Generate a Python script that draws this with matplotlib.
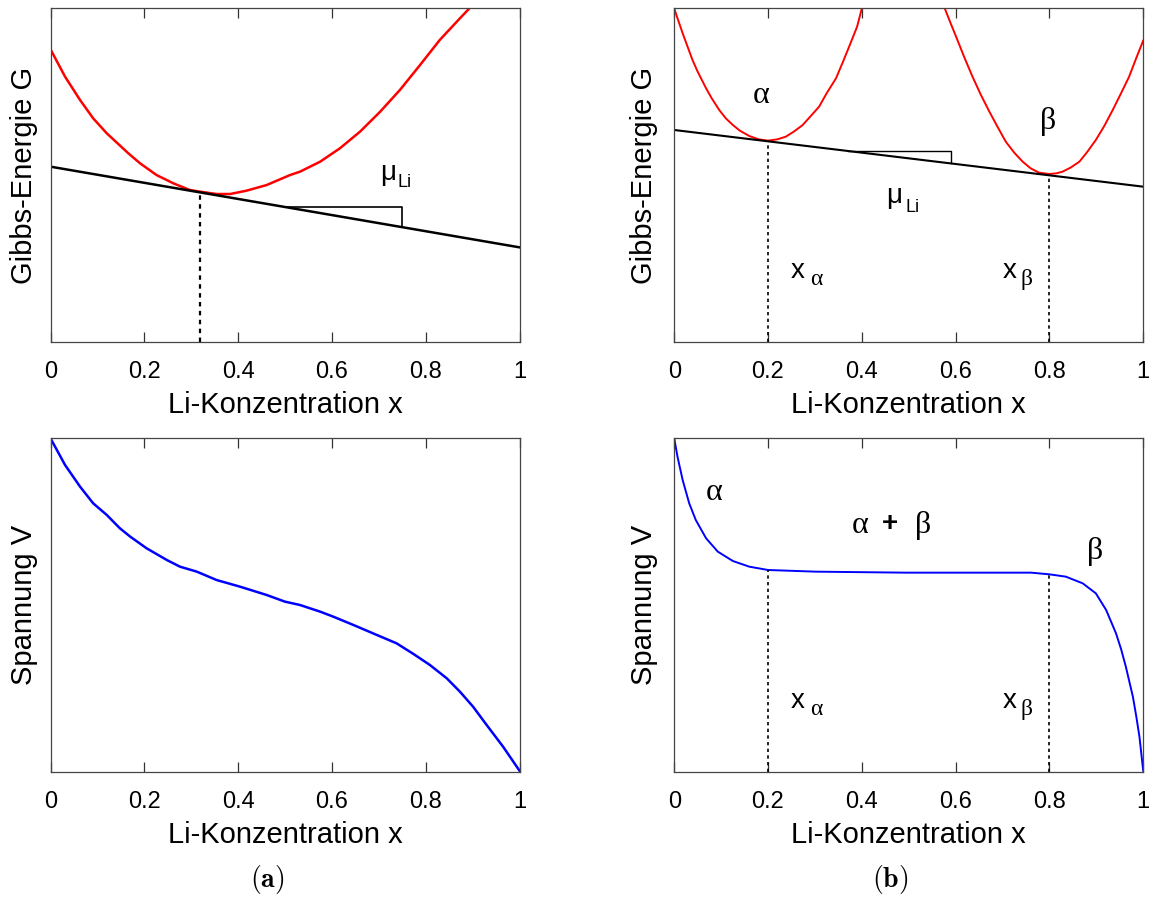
import matplotlib
matplotlib.use("Agg")
import matplotlib.pyplot as plt

# (a) single phase: Gibbs energy, tangent, voltage
ga_x = [0.0, 0.031, 0.063, 0.091, 0.120, 0.166, 0.191, 0.226, 0.262, 0.297, 0.319, 0.354,
        0.383, 0.418, 0.461, 0.511, 0.532, 0.575, 0.617, 0.660, 0.703, 0.745, 0.788, 0.830,
        0.873, 0.900]
ga_y = [0.877, 0.795, 0.725, 0.670, 0.625, 0.565, 0.535, 0.500, 0.475, 0.455, 0.450, 0.443,
        0.443, 0.453, 0.470, 0.500, 0.510, 0.540, 0.580, 0.630, 0.690, 0.755, 0.830, 0.905,
        0.970, 1.010]
tan_a_x = [0.0, 1.0]
tan_a_y = [0.525, 0.283]
xa_touch = 0.319
ga_touch = 0.448
tri_a_x = [0.504, 0.750, 0.750]
tri_a_y = [0.403, 0.403, 0.3435]

va_x = [0.0, 0.031, 0.063, 0.091, 0.120, 0.148, 0.170, 0.205, 0.248, 0.276, 0.312, 0.354,
        0.404, 0.461, 0.500, 0.532, 0.575, 0.603, 0.646, 0.696, 0.738, 0.774, 0.809, 0.845,
        0.873, 0.901, 0.930, 0.965, 1.0]
va_y = [1.0, 0.920, 0.855, 0.805, 0.770, 0.730, 0.705, 0.670, 0.635, 0.615, 0.600, 0.575,
        0.555, 0.530, 0.510, 0.500, 0.480, 0.465, 0.440, 0.410, 0.385, 0.353, 0.320, 0.280,
        0.240, 0.195, 0.140, 0.075, 0.003]

# (b) two phases
gal_x = [-0.005, 0.018, 0.039, 0.050, 0.068, 0.080, 0.096, 0.110, 0.125, 0.140, 0.160,
         0.180, 0.200, 0.220, 0.238, 0.255, 0.274, 0.290, 0.309, 0.325, 0.345, 0.360,
         0.373, 0.390, 0.402]
gal_y = [1.02, 0.925, 0.845, 0.810, 0.760, 0.730, 0.695, 0.670, 0.650, 0.633, 0.617,
         0.607, 0.603, 0.607, 0.615, 0.630, 0.650, 0.675, 0.705, 0.745, 0.790, 0.840,
         0.885, 0.945, 1.01]
gbe_x = [0.574, 0.588, 0.601, 0.618, 0.636, 0.654, 0.672, 0.690, 0.707, 0.725, 0.743,
         0.760, 0.778, 0.800, 0.815, 0.828, 0.845, 0.864, 0.880, 0.899, 0.917, 0.935,
         0.952, 0.970, 0.985, 1.0]
gbe_y = [1.01, 0.960, 0.915, 0.855, 0.795, 0.740, 0.690, 0.643, 0.600, 0.567, 0.540,
         0.520, 0.507, 0.503, 0.505, 0.510, 0.522, 0.540, 0.568, 0.605, 0.647, 0.695,
         0.743, 0.795, 0.850, 0.903]
tan_b_x = [0.0, 1.0]
tan_b_y = [0.635, 0.465]
x_alpha, x_beta = 0.2, 0.8
g_alpha, g_beta = 0.601, 0.499
tri_b_x = [0.370, 0.590, 0.590]
tri_b_y = [0.572, 0.572, 0.5347]

vb_x = [0.0, 0.007, 0.018, 0.032, 0.046, 0.068, 0.093, 0.125, 0.160, 0.200, 0.302, 0.494,
        0.761, 0.800, 0.835, 0.871, 0.899, 0.921, 0.942, 0.953, 0.963, 0.978, 0.985, 0.992,
        1.0]
vb_y = [1.0, 0.945, 0.875, 0.805, 0.755, 0.700, 0.660, 0.632, 0.615, 0.605, 0.600, 0.597,
        0.597, 0.592, 0.585, 0.565, 0.535, 0.485, 0.415, 0.367, 0.315, 0.225, 0.168, 0.105,
        0.003]
v_alpha, v_beta = 0.605, 0.592

xticks = [0, 0.2, 0.4, 0.6, 0.8, 1]
xticklabels = ["0", "0.2", "0.4", "0.6", "0.8", "1"]

plt.rcParams["font.family"] = ["Liberation Sans", "DejaVu Sans"]
SERIF = ["Liberation Serif", "DejaVu Serif"]

fig = plt.figure(figsize=(11.54, 9.0), dpi=100)
W, H = 1154.0, 900.0


def make_axes(left, top, ylabel, ylab_x):
    ax = fig.add_axes([left / W, 1 - (top + 333.4) / H, 469 / W, 333.4 / H])
    ax.set_xlim(0, 1)
    ax.set_ylim(0, 1)
    ax.set_xticks(xticks)
    ax.set_xticklabels(xticklabels)
    ax.set_yticks([])
    ax.tick_params(axis="x", direction="in", top=True, length=7.5, width=0.9,
                   color="#333333", labelsize=17, pad=14)
    for s in ax.spines.values():
        s.set_color("#444444")
        s.set_linewidth(0.9)
    ax.set_xlabel("Li-Konzentration x", fontsize=21, labelpad=6)
    ax.set_ylabel(ylabel, fontsize=21)
    ax.yaxis.set_label_coords(ylab_x, 0.5)
    return ax


def sans_sub(ax, x, y, main, sub, sx, sy, serif_sub):
    ax.text(x, y, main, fontsize=20, ha="left", va="baseline")
    fam = SERIF if serif_sub else ["Liberation Sans"]
    ax.text(sx, sy, sub, fontsize=17 if serif_sub else 13, family=fam,
            ha="left", va="baseline")


def greek(ax, x, y, s):
    ax.text(x, y, s, fontsize=23, family=SERIF, ha="left", va="baseline")


ax1 = make_axes(50.5, 8.3, "Gibbs-Energie G", -0.027)
ax1.plot(ga_x, ga_y, color="red", lw=1.8)
ax1.plot(tan_a_x, tan_a_y, color="black", lw=1.8)
ax1.plot([xa_touch, xa_touch], [0, ga_touch], color="black", lw=1.6, ls=(0, (2, 2)))
ax1.plot(tri_a_x, tri_a_y, color="black", lw=1.2)
sans_sub(ax1, 0.703, 0.486, "\u03bc", "Li", 0.739, 0.465, False)

ax2 = make_axes(674.2, 8.3, "Gibbs-Energie G", -0.034)
ax2.plot(gal_x, gal_y, color="red", lw=1.4)
ax2.plot(gbe_x, gbe_y, color="red", lw=1.4)
ax2.plot(tan_b_x, tan_b_y, color="black", lw=1.5)
ax2.plot([x_alpha, x_alpha], [0, g_alpha], color="black", lw=1.2, ls=(0, (2, 2)))
ax2.plot([x_beta, x_beta], [0, g_beta], color="black", lw=1.2, ls=(0, (2, 2)))
ax2.plot(tri_b_x, tri_b_y, color="black", lw=1.0)
greek(ax2, 0.168, 0.715, "\u03b1")
greek(ax2, 0.780, 0.638, "\u03b2")
sans_sub(ax2, 0.4515, 0.416, "\u03bc", "Li", 0.494, 0.389, False)
sans_sub(ax2, 0.2485, 0.19, "x", "\u03b1", 0.290, 0.170, True)
sans_sub(ax2, 0.700, 0.19, "x", "\u03b2", 0.739, 0.170, True)

ax3 = make_axes(50.5, 438.3, "Spannung V", -0.027)
ax3.plot(va_x, va_y, color="blue", lw=1.8)

ax4 = make_axes(674.2, 438.3, "Spannung V", -0.034)
ax4.plot(vb_x, vb_y, color="blue", lw=1.4)
ax4.plot([x_alpha, x_alpha], [0, v_alpha], color="black", lw=1.2, ls=(0, (2, 2)))
ax4.plot([x_beta, x_beta], [0, v_beta], color="black", lw=1.2, ls=(0, (2, 2)))
greek(ax4, 0.068, 0.815, "\u03b1")
greek(ax4, 0.378, 0.715, "\u03b1")
ax4.text(0.443, 0.722, "+", fontsize=20, fontweight="bold", ha="left", va="baseline")
greek(ax4, 0.5136, 0.715, "\u03b2")
greek(ax4, 0.880, 0.638, "\u03b2")
sans_sub(ax4, 0.2485, 0.19, "x", "\u03b1", 0.290, 0.170, True)
sans_sub(ax4, 0.700, 0.19, "x", "\u03b2", 0.739, 0.170, True)

fig.text(267 / W, 1 - 880 / H, r"$\mathbf{(a)}$", fontsize=20, math_fontfamily="cm",
         ha="center", va="center")
fig.text(890 / W, 1 - 880 / H, r"$\mathbf{(b)}$", fontsize=20, math_fontfamily="cm",
         ha="center", va="center")

fig.savefig("out.png", dpi=100)
